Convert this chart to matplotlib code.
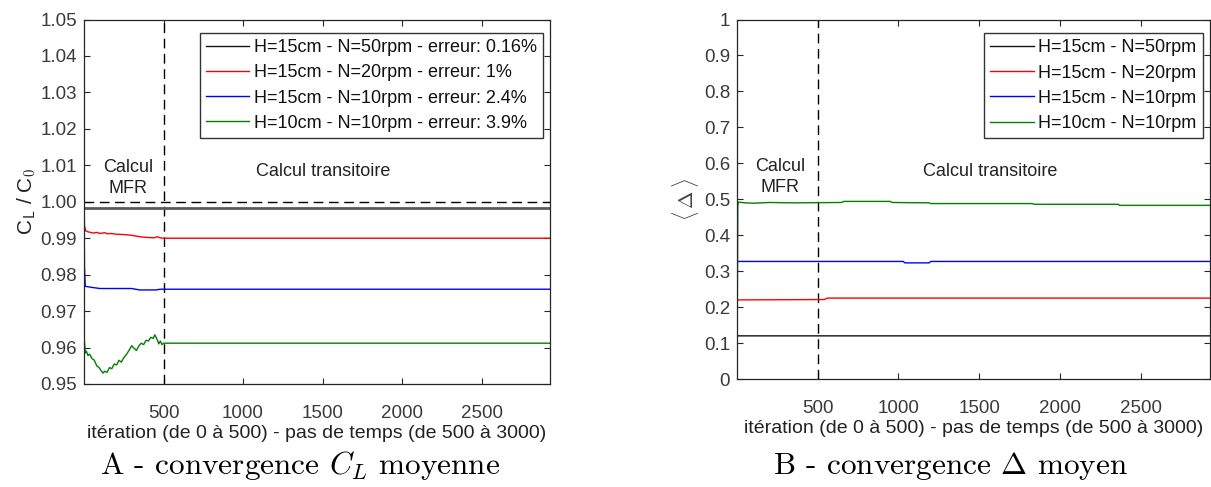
import matplotlib.pyplot as plt

plt.rcParams['font.family'] = ['Liberation Sans', 'DejaVu Sans']
plt.rcParams['mathtext.fontset'] = 'cm'

# --- panel A : C_L / C_0 ---
xa_black = [0, 2930]
ya_black = [0.9984, 0.9984]
xa_red = [0, 3, 10, 30, 60, 80, 100, 130, 150, 170, 200, 250, 300, 350, 400,
          440, 460, 480, 500, 2930]
ya_red = [1.0, 0.9935, 0.992, 0.9917, 0.9914, 0.9916, 0.9913, 0.9915, 0.9912,
          0.9913, 0.9911, 0.991, 0.9908, 0.9904, 0.9902, 0.9901, 0.9904,
          0.9901, 0.990, 0.990]
xa_blue = [0, 3, 8, 50, 100, 300, 350, 450, 480, 2930]
ya_blue = [1.0, 0.982, 0.9768, 0.9765, 0.9762, 0.9762, 0.9758, 0.9758, 0.976, 0.976]
xa_green = [0, 2, 8, 15, 25, 35, 50, 65, 80, 95, 110, 120, 130, 145, 160, 175,
            190, 205, 220, 235, 250, 265, 280, 300, 315, 330, 345, 360, 375,
            390, 405, 420, 435, 445, 460, 470, 480, 490, 500, 2930]
ya_green = [1.0, 0.962, 0.9585, 0.9590, 0.9578, 0.9582, 0.9570, 0.9565, 0.9550,
            0.9545, 0.9535, 0.9530, 0.9535, 0.9532, 0.9545, 0.9542, 0.9555,
            0.9552, 0.9565, 0.9560, 0.9572, 0.9580, 0.9590, 0.9605, 0.9598,
            0.9592, 0.9605, 0.9612, 0.9608, 0.9620, 0.9618, 0.9628, 0.9625,
            0.9635, 0.9622, 0.9610, 0.9618, 0.9608, 0.9612, 0.9612]
labels_a = ["H=15cm - N=50rpm - erreur: 0.16%",
            "H=15cm - N=20rpm - erreur: 1%",
            "H=15cm - N=10rpm - erreur: 2.4%",
            "H=10cm - N=10rpm - erreur: 3.9%"]

# --- panel B : <Delta> ---
xb_black = [0, 2, 2930]
yb_black = [0, 0.12, 0.12]
xb_red = [0, 2, 540, 560, 2930]
yb_red = [0, 0.22, 0.221, 0.225, 0.225]
xb_blue = [0, 2, 1030, 1040, 1190, 1200, 2930]
yb_blue = [0, 0.327, 0.327, 0.323, 0.323, 0.327, 0.327]
xb_green = [0, 5, 10, 50, 100, 200, 350, 650, 660, 950, 960, 1190, 1200, 1830,
            1840, 2360, 2370, 2930]
yb_green = [0, 0.485, 0.492, 0.49, 0.489, 0.491, 0.49, 0.491, 0.494, 0.494,
            0.491, 0.490, 0.488, 0.488, 0.486, 0.486, 0.483, 0.483]
labels_b = ["H=15cm - N=50rpm", "H=15cm - N=20rpm",
            "H=15cm - N=10rpm", "H=10cm - N=10rpm"]

xticks = [500, 1000, 1500, 2000, 2500]
xlabel = "itération (de 0 à 500) - pas de temps (de 500 à 3000)"

fig = plt.figure(figsize=(12.11, 4.87), dpi=100)
W, H = 1211, 487
ax1 = fig.add_axes([84 / W, (H - 384) / H, (550 - 84) / W, (384 - 19.5) / H])
ax2 = fig.add_axes([737 / W, (H - 379) / H, (1210 - 737) / W, (379 - 19.5) / H])

gray = '#262626'
for ax in (ax1, ax2):
    for s in ax.spines.values():
        s.set_color(gray)
        s.set_linewidth(0.9)
    ax.tick_params(direction='in', top=True, right=True, length=4,
                   labelsize=13.5, colors=gray, labelcolor='#3a3a3a', pad=5)
    ax.tick_params(axis='x', pad=15)
    ax.set_xlim(0, 2930)
    ax.set_xticks(xticks)
    ax.set_xlabel(xlabel, fontsize=14, color='#222222', labelpad=2)
    ax.axvline(500, color='k', ls=(0, (7, 4)), lw=1)

leg_kw = dict(loc='upper right', fontsize=13, frameon=True, fancybox=False,
              edgecolor='k', borderpad=0.35, labelspacing=0.45,
              handlelength=2.4, handletextpad=0.25, borderaxespad=0)

# panel A
ax1.plot(xa_black, ya_black, color='#5a5a5a', lw=2, label=labels_a[0])
ax1.plot(xa_red, ya_red, color='#ff0000', lw=1, label=labels_a[1])
ax1.plot(xa_blue, ya_blue, color='#0000ff', lw=1, label=labels_a[2])
ax1.plot(xa_green, ya_green, color='#008000', lw=1, label=labels_a[3])
ax1.axhline(1.0, color='k', ls=(0, (7, 4)), lw=1)
ax1.set_ylim(0.95, 1.05)
ax1.set_yticks([0.95, 0.96, 0.97, 0.98, 0.99, 1.00, 1.01, 1.02, 1.03, 1.04, 1.05])
ax1.set_yticklabels(["%.2f" % v for v in ax1.get_yticks()])
ax1.set_ylabel(r"C$_\mathsf{L}$ / C$_\mathsf{0}$", fontsize=15, color='#222222',
               labelpad=2)
ax1.text(277, 1.0065, "Calcul\nMFR", ha='center', va='center', fontsize=13,
         color='#222222', linespacing=1.25)
ax1.text(1503, 1.0082, "Calcul transitoire", ha='center', va='center',
         fontsize=13, color='#222222')
leg1 = ax1.legend(bbox_to_anchor=(0.985, 0.963), **leg_kw)
leg1.get_frame().set_linewidth(1)
leg1.legend_handles[0].set_color('#111111')
leg1.legend_handles[0].set_linewidth(1)
for t in leg1.get_texts():
    t.set_color('#111111')

# panel B
ax2.plot(xb_black, yb_black, color='#111111', lw=1, label=labels_b[0])
ax2.plot(xb_red, yb_red, color='#ff0000', lw=1, label=labels_b[1])
ax2.plot(xb_blue, yb_blue, color='#0000ff', lw=1, label=labels_b[2])
ax2.plot(xb_green, yb_green, color='#008000', lw=1, label=labels_b[3])
ax2.set_ylim(0, 1)
ax2.set_yticks([0, 0.1, 0.2, 0.3, 0.4, 0.5, 0.6, 0.7, 0.8, 0.9, 1])
ax2.set_yticklabels(["0", "0.1", "0.2", "0.3", "0.4", "0.5", "0.6", "0.7",
                     "0.8", "0.9", "1"])
ax2.set_ylabel(r"$\langle\,\Delta\,\rangle$", fontsize=15, color='#444444',
               labelpad=2)
ax2.text(265, 0.562, "Calcul\nMFR", ha='center', va='center', fontsize=13,
         color='#222222', linespacing=1.25)
ax2.text(1568, 0.576, "Calcul transitoire", ha='center', va='center',
         fontsize=13, color='#222222')
leg2 = ax2.legend(bbox_to_anchor=(0.985, 0.962), **leg_kw)
leg2.get_frame().set_linewidth(1)
for t in leg2.get_texts():
    t.set_color('#111111')

# captions
fig.text(300 / W, 1 - 466 / H, r"A - convergence $C_L$ moyenne",
         ha='center', va='center', fontsize=22.5, family='cmr10')
fig.text(950 / W, 1 - 466 / H, r"B - convergence $\Delta$ moyen",
         ha='center', va='center', fontsize=22.5, family='cmr10')

fig.savefig("out.png", dpi=100)
